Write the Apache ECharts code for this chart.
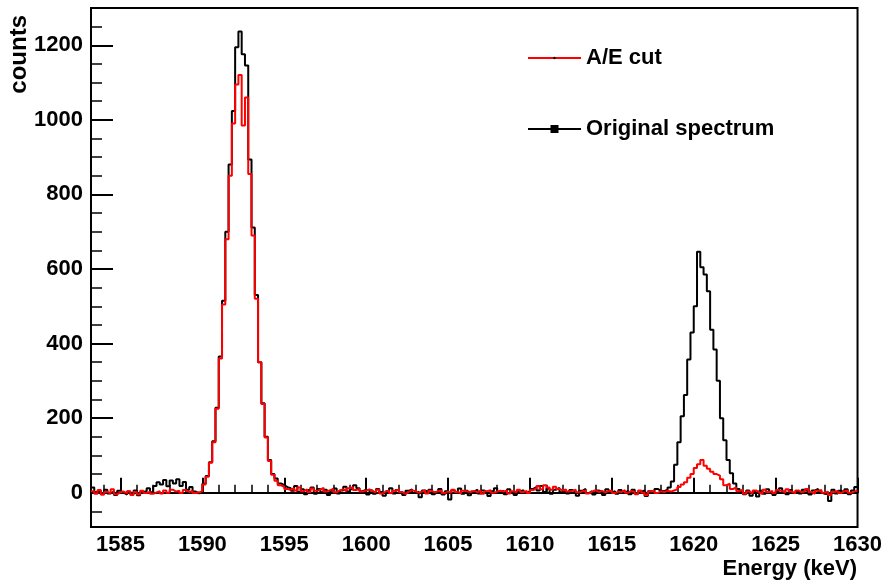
<!DOCTYPE html>
<html lang="en" style="height: 100%">
<head>
  <meta charset="utf-8">
</head>
<body style="height: 100%; margin: 0">
  <div id="container" style="height: 100%"></div>

  <script type="text/javascript" src="https://fastly.jsdelivr.net/npm/echarts@6.0.0/dist/echarts.min.js"></script>

  <script type="text/javascript">
    // histogram binning (keV)
    var binStart = 1583.2;
    var binWidth = 0.2;

    // counts per 0.2 keV bin, 1583.2 -> 1630.0 keV (234 bins)
    var originalCounts = [
      14, 2, 6, -4, 8, -2, 3, -6, 5, 0,
      -5, 3, -3, 6, -7, 2, 4, 12, 1, 18,
      28, 22, 34, 17, 33, 25, 36, 18, 29, 8,
      15, 3, -2, 2,
      // 1592 keV peak
      24, 45, 82, 138, 228, 365, 515, 700, 880, 1024,
      1195, 1237, 1176, 1146, 894, 711, 530, 350, 240, 150,
      88, 50, 38, 25, 20, 15,
      12, 5, 18, 2, 9, -4, 7, 14, -3, 10,
      1, 8, -6, 5, 11, -2, 6, 16, 3, 9,
      20, 12, 4, 8, -5,
      6, -3, 10, 2, -8, 4, 12, -2, 7, 0,
      -6, 5, 9, -1, 3, -12, 6, 1, 8, -4,
      2, 10, -5, 4, -18, 7, 0, 11, -3, 5,
      -7, 3, 8, -2, 6, 1, -9, 4, 12, 0,
      5, -4, 9, 2, -6, 3, 7, -1, 4, 10,
      15, 6, 18, 2, 11, -3, 8, 13, 1, 6,
      -2, 7, 3, -8, 5, 10, -1, 4, -5, 6,
      2, -6, 9, 1, 4, -3, 7, 0, 5, -4,
      8, -2, 3, 6, -9, 4, 1, 10, 5,
      // 1620 keV peak
      4, 8, 14, 30, 75, 135, 205, 262, 357, 430,
      500, 646, 605, 585, 540, 437, 384, 300, 200, 141,
      88, 52, 25, 10, 3, -4,
      6, -8, 2, -10, 5, -3, 9, 1, -6, 4,
      12, 3, -4, 7, 0, 5, -2, 8, 3, -5,
      6, 10, 1, -3, -4, -22, 8, -2, 5, 2,
      9, -4, 6, 15
    ];

    var aeCutCounts = [
      4, -3, 7, -5, 2, -2, 9, -4, 1, 3,
      -2, 4, -6, 2, -4, 5, -1, 3, -3, 1,
      4, -2, 6, 0, 8, 3, 5, -1, 7, 2,
      5, -1, 1, 4,
      // 1592 keV peak
      22, 43, 80, 135, 225, 360, 505, 680, 850, 990,
      1095, 1120, 985, 1060, 855, 690, 520, 350, 238, 148,
      85, 48, 32, 20, 16, 10,
      8, 12, 6, 14, 4, 9, 2, 11, 5, 8,
      13, 3, 7, 10, 1, 6, 9, 4, 12, 15,
      7, 10, 3, 6, 9,
      4, 1, 8, -2, 3, 6, -1, 5, 9, 2,
      -3, 2, 7, 4, 0, 3, 6, -2, 5, 1,
      4, 6, -1, 3, 0, 8, 2, -2, 5, 3,
      2, 5, 1, 6, -3, 4, 7, 0, 3, 5,
      3, 6, -2, 4, 1, 8, 2, 5, -1, 7,
      12, 18, 9, 20, 14, 8, 16, 10, 6, 9,
      3, 5, 8, 1, 4, 6, -2, 3, 7, 2,
      5, 1, 4, 6, -1, 3, 2, 7, 0, 4,
      2, -4, 6, 0, -6, 3, 5, -1, 4,
      // 1620 keV peak
      2, 5, 3, 6, 9, 15, 22, 28, 40, 50,
      66, 76, 88, 72, 64, 56, 50, 46, 36, 20,
      24, 10, 14, 4, 8, -3,
      3, -2, 6, 1, -4, 8, 2, 5, -1, 7,
      4, 0, 9, 3, -2, 6, 1, 4, 10, 2,
      -3, 5, 7, 0, 3, -6, 2, 5, -1, 4,
      6, 0, 3, 5
    ];

    var xMajorTicks = [1585, 1590, 1595, 1600, 1605, 1610, 1615, 1620, 1625, 1630];
    var xMinorTicks = [];
    for (var e = 1584; e <= 1630; e++) xMinorTicks.push(e);
    var yMajorTicks = [0, 200, 400, 600, 800, 1000, 1200];
    var yMinorTicks = [];
    for (var c = -50; c <= 1250; c += 50) yMinorTicks.push(c);

    // turn bin contents into points for a step line (bin centres + edges)
    function toSteps(counts) {
      var pts = [[binStart, counts[0]]];
      for (var i = 0; i < counts.length; i++) {
        pts.push([+(binStart + binWidth * (i + 0.5)).toFixed(3), counts[i]]);
      }
      pts.push([+(binStart + binWidth * counts.length).toFixed(3), counts[counts.length - 1]]);
      return pts;
    }

    function plain(v) { return String(v); }

    var FONT = 'Liberation Sans, Arial, Helvetica, sans-serif';
    var legendText = { fontFamily: FONT, fontWeight: 'bold', fontSize: 22, color: '#000' };

    var dom = document.getElementById('container');
    var myChart = echarts.init(dom, null, { renderer: 'canvas' });
    var option;

    option = {
      animation: false,
      backgroundColor: '#fff',
      grid: {
        left: 91, right: 27, top: 8, bottom: 54,
        show: true, borderColor: '#000', borderWidth: 2,
        containLabel: false
      },
      legend: [
        {
          data: ['A/E cut'],
          left: 527, top: 47, padding: 0,
          itemWidth: 53, itemHeight: 3,
          itemStyle: { color: '#000' },
          textStyle: legendText
        },
        {
          data: ['Original spectrum'],
          left: 527, top: 118, padding: 0,
          itemWidth: 53, itemHeight: 10,
          textStyle: legendText
        }
      ],
      xAxis: [
        {
          type: 'value', min: 1583.2, max: 1630,
          axisLine: { lineStyle: { color: '#000', width: 2 } },
          axisTick: { inside: true, length: 15, customValues: xMajorTicks, lineStyle: { color: '#000', width: 2 } },
          axisLabel: {
            customValues: xMajorTicks, margin: 7, formatter: plain,
            fontFamily: FONT, fontWeight: 'bold', fontSize: 22, color: '#000'
          },
          splitLine: { show: false }
        },
        {
          type: 'value', min: 1583.2, max: 1630, position: 'bottom', offset: 0,
          axisLine: { show: false },
          axisTick: { inside: true, length: 8, customValues: xMinorTicks, lineStyle: { color: '#000', width: 1.5 } },
          axisLabel: { show: false },
          splitLine: { show: false }
        }
      ],
      yAxis: [
        {
          type: 'value', min: -92, max: 1300,
          axisLine: { show: true, lineStyle: { color: '#000', width: 2 } },
          axisTick: { show: true, inside: true, length: 22, customValues: yMajorTicks, lineStyle: { color: '#000', width: 2 } },
          axisLabel: {
            customValues: yMajorTicks, margin: 8, formatter: plain,
            fontFamily: FONT, fontWeight: 'bold', fontSize: 22, color: '#000'
          },
          splitLine: { show: false }
        },
        {
          type: 'value', min: -92, max: 1300, position: 'left', offset: 0,
          axisLine: { show: false },
          axisTick: { show: true, inside: true, length: 11, customValues: yMinorTicks, lineStyle: { color: '#000', width: 1.5 } },
          axisLabel: { show: false },
          splitLine: { show: false }
        }
      ],
      graphic: [
        {
          type: 'text', x: 857, y: 569,
          style: {
            text: 'Energy (keV)', align: 'right', verticalAlign: 'middle',
            font: 'bold 22px ' + FONT, fill: '#000'
          }
        },
        {
          type: 'text', x: 19, y: 15, rotation: Math.PI / 2,
          style: {
            text: 'counts', align: 'right', verticalAlign: 'middle',
            font: 'bold 24px ' + FONT, fill: '#000'
          }
        }
      ],
      series: [
        {
          name: 'Original spectrum',
          type: 'line', step: 'middle',
          xAxisIndex: 0, yAxisIndex: 0,
          showSymbol: false, symbol: 'rect', symbolSize: 9,
          itemStyle: { color: '#000' },
          lineStyle: { color: '#000', width: 2 },
          data: toSteps(originalCounts)
        },
        {
          name: 'A/E cut',
          type: 'line', step: 'middle',
          xAxisIndex: 0, yAxisIndex: 0,
          showSymbol: false, symbol: 'circle', symbolSize: 2,
          itemStyle: { color: '#ff0000' },
          lineStyle: { color: '#ff0000', width: 2 },
          data: toSteps(aeCutCounts)
        }
      ]
    };

    if (option && typeof option === 'object') {
      myChart.setOption(option);
    }

    window.addEventListener('resize', myChart.resize);
  </script>
</body>
</html>
